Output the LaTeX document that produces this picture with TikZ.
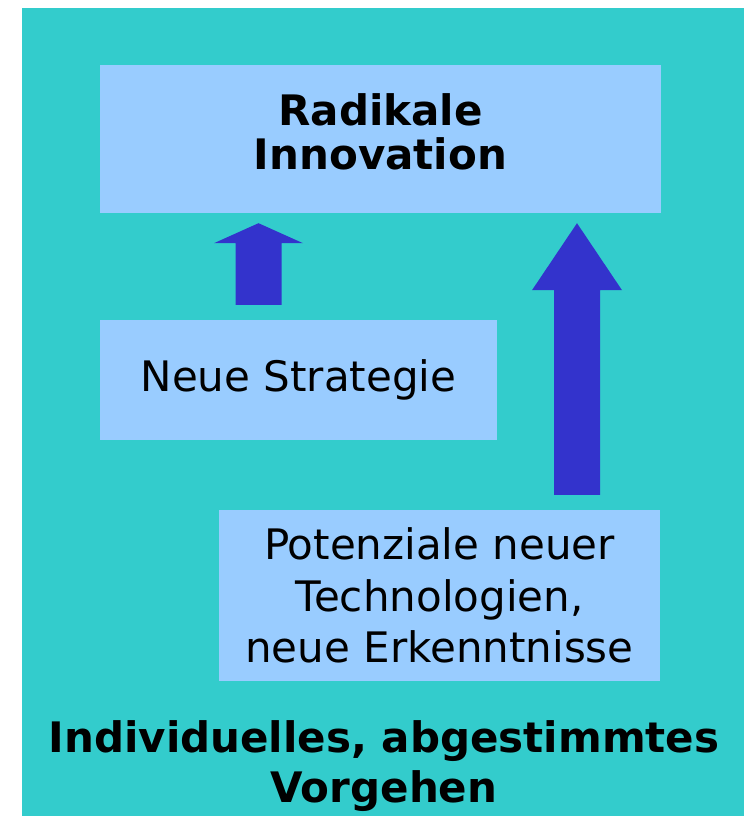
\documentclass[tikz,border=0pt]{standalone}
\usepackage{fontspec}
\setmainfont{DejaVu Sans}
\usetikzlibrary{calc}
\definecolor{bgteal}{HTML}{33CCCC}
\definecolor{boxblue}{HTML}{99CCFF}
\definecolor{arrowblue}{HTML}{3333CC}
\newcommand{\blockarrow}[5]{%
\fill [arrowblue] let \p1=#1, \p2=#2 in
(\x1-#3,\y1) -- (\x1-#3,\y2-#5) -- (\x1-#4,\y2-#5) -- (\x2,\y2)
-- (\x1+#4,\y2-#5) -- (\x1+#3,\y2-#5) -- (\x1+#3,\y1) -- cycle;}
\begin{document}
\begin{tikzpicture}[x=1pt,y=1pt,
every node/.style={inner sep=0pt},
box/.style={fill=boxblue,align=center}]
\useasboundingbox (0,0) rectangle (744,816);
\fill [bgteal] (22,0) rectangle (744,808);
\node [box,minimum width=561pt,minimum height=148pt,text depth=14pt,font=\fontsize{42}{44}\selectfont\bfseries] (radikal) at (380.5,677) {Radikale\\Innovation};
\node [box,minimum width=397pt,minimum height=120pt,font=\fontsize{42}{50}\selectfont] (strategie) at (298.5,436) {Neue Strategie};
\node [box,minimum width=441pt,minimum height=171pt,font=\fontsize{42}{51.5}\selectfont] (potenzial) at (439.5,220.5) {Potenziale neuer\\Technologien,\\neue Erkenntnisse};
\node [align=center,font=\fontsize{42}{50}\selectfont\bfseries] (vorgehen) at (384,49.5) {Individuelles, abgestimmtes\\Vorgehen};
\coordinate (a1) at (258.5,0);
\coordinate (a2) at (577,0);
\blockarrow{($(strategie.north -| a1)+(0,15)$)}{($(radikal.south -| a1)+(0,-10)$)}{23pt}{44.5pt}{20pt}
\blockarrow{($(potenzial.north -| a2)+(0,15)$)}{($(radikal.south -| a2)+(0,-10)$)}{23pt}{45pt}{67pt}
\end{tikzpicture}
\end{document}
